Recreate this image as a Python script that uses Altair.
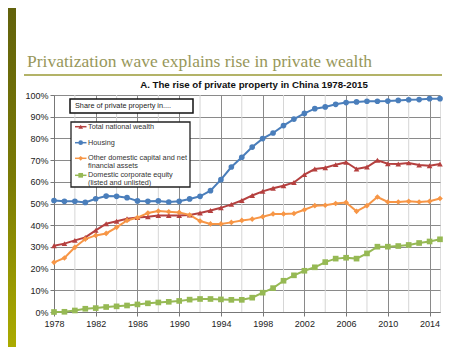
import altair as alt
import pandas as pd

years = list(range(1978, 2016))
series_names = [
    "Total national wealth",
    "Housing",
    "Other domestic capital and net financial assets",
    "Domestic corporate equity (listed and unlisted)",
]
legend_lines = [
    ["Total national wealth"],
    ["Housing"],
    ["Other domestic capital and net", "financial assets"],
    ["Domestic corporate equity", "(listed and unlisted)"],
]
total = [30.5, 31.5, 33.0, 34.4, 37.6, 40.7, 41.8, 43.0, 43.5, 43.9, 44.5, 44.5, 44.5,
         44.7, 45.6, 46.8, 48.0, 49.6, 51.4, 53.7, 55.6, 57.0, 58.2, 59.7, 63.3, 65.9,
         66.5, 67.9, 69.0, 65.9, 66.8, 69.9, 68.3, 68.2, 68.7, 67.7, 67.4, 68.2]
housing = [51.4, 51.0, 51.0, 50.5, 52.2, 53.4, 53.3, 52.7, 51.2, 51.0, 51.2, 50.7, 51.0,
           52.1, 53.3, 55.9, 61.0, 66.8, 71.3, 76.0, 79.9, 82.5, 85.9, 88.9, 91.5, 93.7,
           94.5, 95.7, 96.5, 96.8, 97.1, 97.1, 97.2, 97.5, 97.8, 97.9, 98.3, 98.3]
other = [22.9, 24.9, 29.8, 33.6, 35.3, 36.2, 39.0, 42.2, 43.5, 45.6, 46.5, 46.2, 45.9,
         44.7, 41.9, 40.6, 40.6, 41.3, 42.2, 42.8, 43.9, 45.2, 45.2, 45.4, 47.1, 49.0,
         49.2, 50.0, 50.5, 46.4, 49.0, 53.0, 50.7, 50.7, 51.0, 50.7, 51.0, 52.3]
equity = [0.0, 0.1, 0.7, 1.5, 1.8, 2.3, 2.6, 3.0, 3.5, 4.0, 4.4, 4.7, 5.1,
          5.7, 6.0, 6.0, 5.8, 5.6, 5.6, 6.6, 8.9, 11.0, 14.4, 16.9, 19.0, 20.6,
          23.0, 24.6, 25.0, 24.6, 27.0, 30.1, 30.1, 30.4, 30.9, 31.8, 32.5, 33.5]
major_years = list(range(1978, 2015, 4))
minor_years = list(range(1980, 2015, 4))
y_ticks = list(range(0, 101, 10))

colors = ["#b5403f", "#4a7ebb", "#f79646", "#96b954"]
shapes = ["triangle-up", "circle", "diamond", "square"]

rows = []
for name, vals in zip(series_names, [total, housing, other, equity]):
    for yr, v in zip(years, vals):
        rows.append({"year": yr, "value": v, "series": name})
df = pd.DataFrame(rows)

W, H = 386, 217
FONT = "Liberation Sans"

xscale = alt.Scale(domain=[1978, 2015], nice=False, zero=False)
yscale = alt.Scale(domain=[0, 100], nice=False)
cscale = alt.Scale(domain=series_names, range=colors)
sscale = alt.Scale(domain=series_names, range=shapes)

x_axis = alt.Axis(values=major_years, format="d", grid=True, gridColor="#8a8a8a",
                  gridWidth=1, labelFontSize=9, labelFont=FONT, labelColor="#222",
                  domainColor="#777", tickColor="#777", tickSize=4, labelPadding=3,
                  labelFlush=False, title=None)
y_axis = alt.Axis(values=y_ticks, labelExpr="datum.value + '%'", grid=True,
                  gridColor="#8a8a8a", gridWidth=1, labelFontSize=9, labelFont=FONT,
                  labelColor="#222", domainColor="#777", tickColor="#777",
                  tickSize=4, labelPadding=2, labelOverlap=False, labelFlush=False,
                  title=None)

minor = alt.Chart(pd.DataFrame({"year": minor_years})).mark_rule(
    color="#d6d6d6", strokeWidth=1
).encode(x=alt.X("year:Q", scale=xscale, axis=x_axis))

lines = alt.Chart(df).mark_line(strokeWidth=2).encode(
    x=alt.X("year:Q", scale=xscale, axis=x_axis),
    y=alt.Y("value:Q", scale=yscale, axis=y_axis),
    color=alt.Color("series:N", scale=cscale, legend=None),
    detail="series:N",
)

points = alt.Chart(df).mark_point(filled=True, size=32, opacity=1).encode(
    x=alt.X("year:Q", scale=xscale, axis=x_axis),
    y=alt.Y("value:Q", scale=yscale, axis=y_axis),
    color=alt.Color("series:N", scale=cscale, legend=None),
    shape=alt.Shape("series:N", scale=sscale, legend=None),
)

one = pd.DataFrame({"k": [0]})

# legend (drawn by hand inside the plot, like the original)
legend_layers = [
    alt.Chart(one).mark_rect(fill="white", stroke="#222", strokeWidth=1.3).encode(
        x=alt.value(17), x2=alt.value(136), y=alt.value(27), y2=alt.value(92))
]
entry_y = [31.7, 47.7, 63.3, 80.3]
for i, name in enumerate(series_names):
    yy = entry_y[i]
    legend_layers.append(alt.Chart(one).mark_rule(color=colors[i], strokeWidth=1.5).encode(
        x=alt.value(21), x2=alt.value(32.5), y=alt.value(yy)))
    legend_layers.append(alt.Chart(one).mark_point(
        filled=True, opacity=1, color=colors[i], shape=shapes[i], size=22).encode(
        x=alt.value(26.7), y=alt.value(yy)))
    for j, line in enumerate(legend_lines[i]):
        legend_layers.append(alt.Chart(one).mark_text(
            align="left", baseline="middle", fontSize=7.3, font=FONT, color="#333",
            text=line).encode(x=alt.value(34), y=alt.value(yy + 8 * j)))

share_box = alt.Chart(one).mark_rect(fill="white", stroke="#111", strokeWidth=1.5).encode(
    x=alt.value(16), x2=alt.value(139), y=alt.value(4), y2=alt.value(18))
share_text = alt.Chart(one).mark_text(
    align="left", baseline="middle", fontSize=7.3, font=FONT, color="#222",
    text="Share of private property in....").encode(x=alt.value(21), y=alt.value(11))

subtitle = alt.Chart(one).mark_text(
    align="center", baseline="alphabetic", fontSize=9.7, font=FONT, fontWeight="bold",
    color="#111", text="A. The rise of private property in China 1978-2015"
).encode(x=alt.value(200), y=alt.value(-7))

title = alt.Chart(one).mark_text(
    align="left", baseline="alphabetic", fontSize=17.5, font="Liberation Serif",
    color="#97975a", text="Privatization wave explains rise in private wealth"
).encode(x=alt.value(-27), y=alt.value(-28))

underline = alt.Chart(one).mark_rule(color="#b3b368", strokeWidth=2).encode(
    x=alt.value(-30), x2=alt.value(388), y=alt.value(-20))

side_bar = alt.Chart(one).mark_rect(
    fill=alt.Gradient(gradient="linear",
                      stops=[alt.GradientStop(color="#62620c", offset=0),
                             alt.GradientStop(color="#7a7a05", offset=0.5),
                             alt.GradientStop(color="#abab00", offset=1)],
                      x1=0, x2=0, y1=0, y2=1)
).encode(x=alt.value(-46), x2=alt.value(-38), y=alt.value(-87), y2=alt.value(252))

chart = alt.layer(
    minor, lines, points, *legend_layers, share_box, share_text, subtitle, title,
    underline, side_bar
).properties(
    width=W, height=H,
    autosize=alt.AutoSizeParams(type="none"),
    padding={"left": 46, "top": 87, "right": 26, "bottom": 35},
).configure_view(stroke="#777", strokeWidth=1).configure(background="white")

chart.save("out.html", embed_options={"renderer": "svg", "actions": False})
